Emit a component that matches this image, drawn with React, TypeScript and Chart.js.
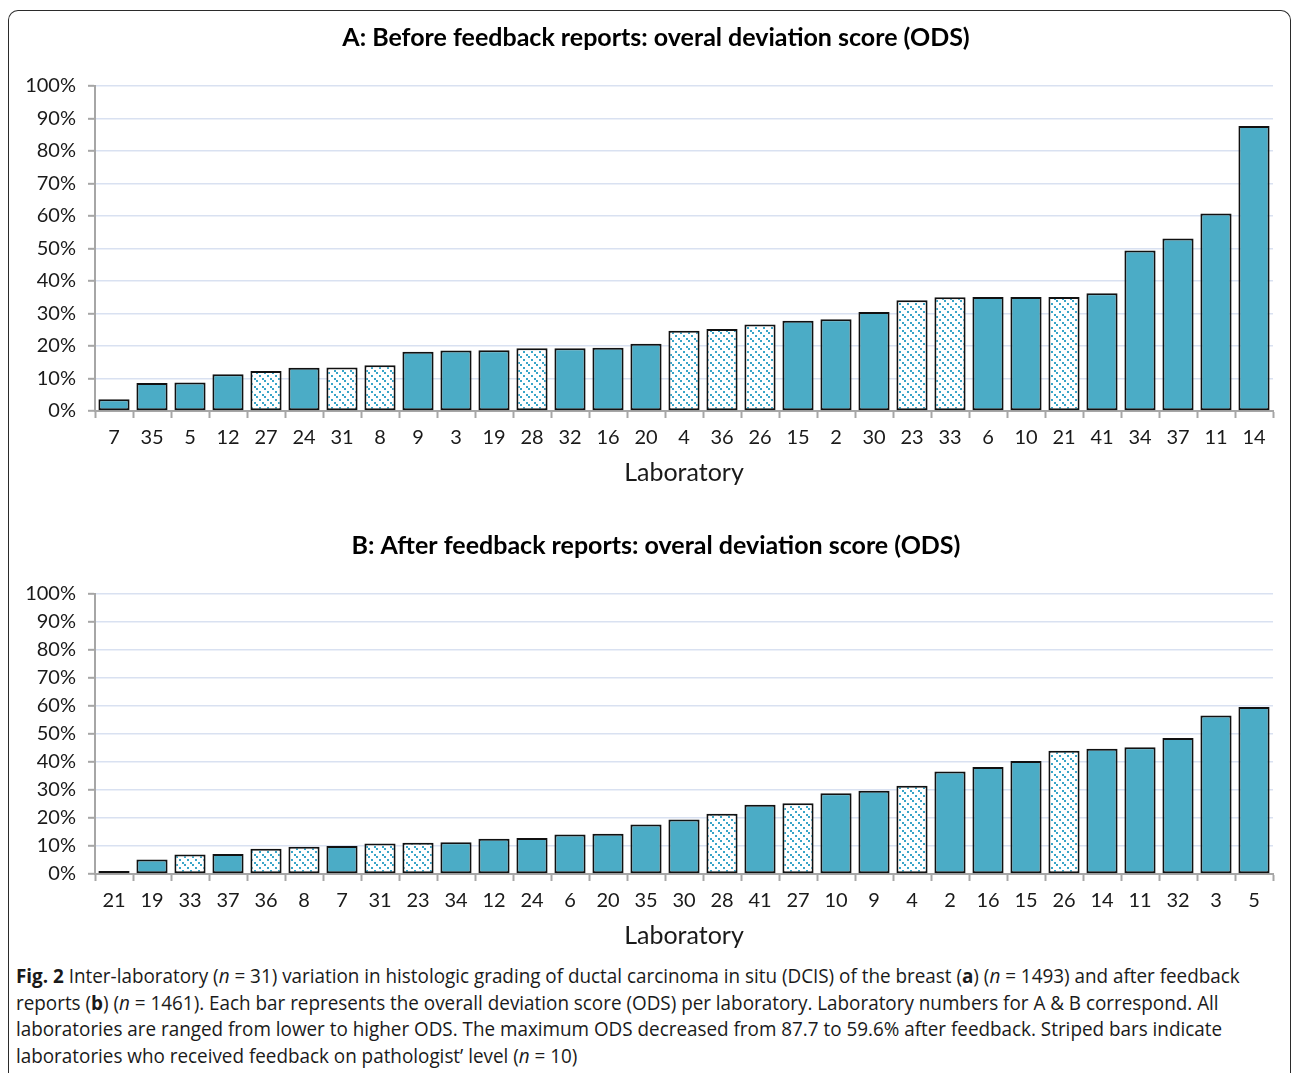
import React, { useEffect, useLayoutEffect, useRef, useState } from 'react';
import { Chart, registerables } from 'chart.js';

Chart.register(...registerables);

// ---- data ----
const labsBefore = ['7', '35', '5', '12', '27', '24', '31', '8', '9', '3', '19', '28', '32', '16', '20', '4', '36', '26', '15', '2', '30', '23', '33', '6', '10', '21', '41', '34', '37', '11', '14'];
const odsBefore = [3.6, 8.6, 8.8, 11.3, 12.3, 13.3, 13.4, 14.1, 18.2, 18.6, 18.7, 19.3, 19.3, 19.5, 20.7, 24.7, 25.2, 26.6, 27.8, 28.2, 30.5, 34.1, 35.0, 35.1, 35.1, 35.1, 36.2, 49.4, 53.1, 60.8, 87.7];

const labsAfter = ['21', '19', '33', '37', '36', '8', '7', '31', '23', '34', '12', '24', '6', '20', '35', '30', '28', '41', '27', '10', '9', '4', '2', '16', '15', '26', '14', '11', '32', '3', '5'];
const odsAfter = [1.1, 5.2, 7.0, 7.1, 9.0, 9.7, 10.0, 10.9, 11.2, 11.3, 12.6, 12.9, 14.1, 14.4, 17.7, 19.5, 21.5, 24.7, 25.3, 28.8, 29.7, 31.5, 36.6, 38.2, 40.4, 44.0, 44.7, 45.3, 48.6, 56.6, 59.6];

// laboratories that received feedback on pathologist level (striped bars)
const feedbackLabs = ['27', '31', '8', '28', '4', '36', '26', '23', '33', '21'];

const titleBefore = 'A: Before feedback reports: overal deviation score (ODS)';
const titleAfter = 'B: After feedback reports: overal deviation score (ODS)';
const xAxisTitle = 'Laboratory';

// ---- styles ----
const TEAL = '#4BACC6';
const STRIPE = '#3AA5C8';
const AXIS = '#A6A6A6';
const GRID = '#D9E1F1';
const FONT = 'Lato, "Open Sans", sans-serif';

function makeStripe(): CanvasPattern | string {
  const c = document.createElement('canvas');
  const n = 8;
  c.width = n;
  c.height = n;
  const ctx = c.getContext('2d');
  if (!ctx) return TEAL;
  ctx.fillStyle = '#ffffff';
  ctx.fillRect(0, 0, n, n);
  ctx.fillStyle = STRIPE;
  for (let i = 0; i < n; i += 3) {
    ctx.fillRect(i, i, 2, 2);
  }
  const p = ctx.createPattern(c, 'repeat');
  return p || TEAL;
}

interface BoxProps {
  top: number;
  height: number;
  title: string;
  labels: string[];
  values: number[];
  titlePadTop: number;
  titlePadBottom: number;
}

function BarBox({ top, height, title, labels, values, titlePadTop, titlePadBottom }: BoxProps) {
  const ref = useRef<HTMLCanvasElement | null>(null);
  useEffect(() => {
    if (!ref.current) return;
    const stripe = makeStripe();
    const chart = new Chart(ref.current, {
      type: 'bar',
      data: {
        labels,
        datasets: [
          {
            data: values,
            backgroundColor: labels.map((l) => (feedbackLabs.includes(l) ? stripe : TEAL)) as any,
            borderColor: '#111111',
            borderWidth: 2,
            borderSkipped: false,
            barPercentage: 0.82,
            categoryPercentage: 1,
          },
        ],
      },
      options: {
        responsive: false,
        animation: false,
        events: [],
        layout: { padding: { left: 39, right: 19, top: 0, bottom: 0 } },
        plugins: {
          legend: { display: false },
          tooltip: { enabled: false },
          title: {
            display: true,
            text: title,
            color: '#000000',
            font: { family: FONT, size: 25, weight: 'bold', lineHeight: 1.2 },
            padding: { top: titlePadTop, bottom: titlePadBottom },
          },
        },
        scales: {
          x: {
            grid: {
              display: true,
              drawOnChartArea: false,
              drawTicks: true,
              tickLength: 7,
              tickColor: AXIS,
              tickWidth: 2,
              offset: true,
            },
            border: { display: true, color: AXIS, width: 2 },
            ticks: {
              color: '#1a1a1a',
              font: { family: FONT, size: 20, lineHeight: 1.2 },
              padding: 8,
              maxRotation: 0,
              autoSkip: false,
            },
            title: {
              display: true,
              text: xAxisTitle,
              color: '#1a1a1a',
              font: { family: FONT, size: 25, lineHeight: 1.2 },
              padding: { top: 0, bottom: 4 },
            },
          },
          y: {
            min: 0,
            max: 100,
            ticks: {
              stepSize: 10,
              color: '#1a1a1a',
              font: { family: FONT, size: 20, lineHeight: 1.2 },
              padding: 12,
              callback: (v: any) => `${v}%`,
            },
            grid: {
              color: (ctx: any) => (ctx.tick && ctx.tick.value === 0 ? AXIS : GRID),
              lineWidth: 1.6,
              tickColor: AXIS,
              tickLength: 7,
              tickWidth: 2,
            },
            border: { display: true, color: AXIS, width: 2 },
            afterFit: (s: any) => {
              s.width = 56;
              // let the widest tick label ("100%") extend into the left padding
              s._computeLabelArea = () => undefined;
            },
          },
        },
      },
    } as any);
    return () => chart.destroy();
  }, []);
  return (
    <canvas
      ref={ref}
      width={1292}
      height={height}
      style={{ position: 'absolute', left: 0, top, width: 1292, height }}
    />
  );
}

const CAPTION_LINE_WIDTH = 1224;

function Caption() {
  const lineRef = useRef<HTMLSpanElement | null>(null);
  const [k, setK] = useState(1);
  useLayoutEffect(() => {
    if (lineRef.current) {
      const w = lineRef.current.offsetWidth;
      if (w > 0) setK(CAPTION_LINE_WIDTH / w);
    }
  }, []);
  return (
    <div
      style={{
        position: 'absolute',
        left: 16,
        top: 963,
        fontFamily: '"Open Sans", sans-serif',
        fontSize: 20,
        lineHeight: '26.7px',
        color: '#1a1a1a',
        whiteSpace: 'nowrap',
        transform: `scaleX(${k})`,
        transformOrigin: 'left top',
      }}
    >
      <span ref={lineRef} style={{ display: 'inline-block' }}>
        <b>Fig. 2</b> Inter-laboratory (<i>n</i> = 31) variation in histologic grading of ductal carcinoma in situ (DCIS) of the breast (<b>a</b>) (<i>n</i> = 1493) and after feedback
      </span>
      <br />
      reports (<b>b</b>) (<i>n</i> = 1461). Each bar represents the overall deviation score (ODS) per laboratory. Laboratory numbers for A &amp; B correspond. All
      <br />
      laboratories are ranged from lower to higher ODS. The maximum ODS decreased from 87.7 to 59.6% after feedback. Striped bars indicate
      <br />
      laboratories who received feedback on pathologist’ level (<i>n</i> = 10)
    </div>
  );
}

export default function App() {
  return (
    <div>
      <div
        style={{
          position: 'absolute',
          left: 8,
          top: 10,
          width: 1283,
          height: 1063,
          boxSizing: 'border-box',
          border: '1.5px solid #2b2b2b',
          borderBottom: 'none',
          borderTopLeftRadius: 10,
          borderTopRightRadius: 10,
        }}
      />
      <BarBox top={12} height={480} title={titleBefore} labels={labsBefore} values={odsBefore} titlePadTop={11} titlePadBottom={33} />
      <BarBox top={520} height={435} title={titleAfter} labels={labsAfter} values={odsAfter} titlePadTop={11} titlePadBottom={33} />
      <Caption />
    </div>
  );
}
